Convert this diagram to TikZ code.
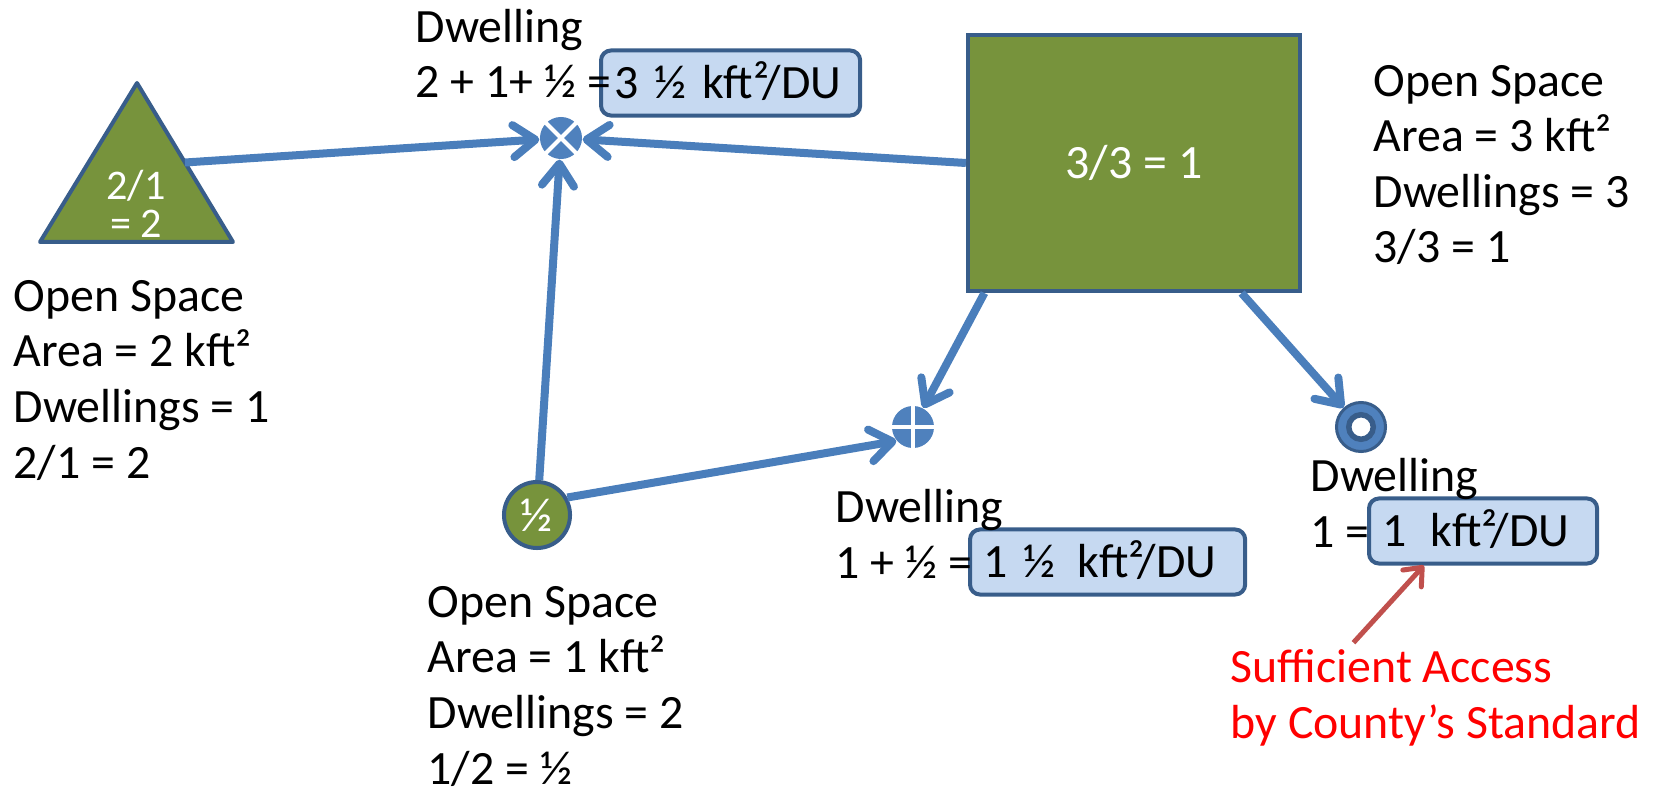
\documentclass[tikz,border=0pt]{standalone}
\usepackage{fontspec}
\setmainfont{Carlito}
\usetikzlibrary{positioning,calc,arrows.meta}
\definecolor{lnblue}{HTML}{4A7EBB}
\definecolor{dkblue}{HTML}{385D8A}
\definecolor{dwblue}{HTML}{4F81BD}
\definecolor{osgreen}{HTML}{77933C}
\definecolor{boxblue}{HTML}{C6D9F1}
\definecolor{arrred}{HTML}{C0504D}

\begin{document}
\begin{tikzpicture}[x=0.01cm,y=-0.01cm,
  every node/.style={font=\fontsize{13.6}{15.8}\selectfont},
  dwsym/.style={circle,fill=dwblue,inner sep=0pt,minimum size=0.42cm},
  ossym/.style={fill=osgreen,draw=dkblue,line width=0.04cm,text=white},
  dubox/.style={draw=dkblue,fill=boxblue,line width=0.04cm,rounded corners=0.1cm,inner xsep=0.13cm,inner ysep=0pt,
    minimum height=0.65cm,text height=0.36cm,text depth=0.06cm,anchor=west,align=left},
  lab/.style={anchor=base west,align=left,inner sep=0pt},
  link/.style={lnblue,line width=0.08cm,-{Straight Barb[round,length=0.22cm,width=0.32cm]}},
  note/.style={arrred,line width=0.05cm,-{Straight Barb[round,length=0.15cm,width=0.25cm]}}]
    \useasboundingbox (0,0) rectangle (1654,794);

    \coordinate (ta) at (137,83);
    \coordinate (tb) at (40,242);
    \coordinate (tc) at (233,242);
    \draw[ossym,line join=round] (ta) -- (tb) -- (tc) -- cycle;
    \coordinate (te) at ($(ta)!0.5!(tc)$);
    \node[text=white,align=center,inner sep=0pt,font=\fontsize{12}{11}\selectfont,anchor=base] (tri) at (136,238) {2/1\\= 2};

    \node[ossym,rectangle,minimum width=3.32cm,minimum height=2.56cm] (big) at (1134,163) {3/3 = 1};
    \node[ossym,circle,minimum size=0.66cm,inner sep=0pt] (half) at (537,515) {½};

    \node[dwsym] (xdw) at (561,138) {};
    \node[dwsym] (pdw) at (913,427) {};
    \node[dwsym,draw=dkblue,line width=0.03cm,minimum size=0.49cm] (odw) at (1361,427) {};
    \node[circle,fill=white,draw=dkblue,line width=0.055cm,minimum size=0.245cm,inner sep=0pt] (odwc) at (odw) {};
    \draw[white,line width=0.04cm] (xdw.north west) -- (xdw.south east) (xdw.north east) -- (xdw.south west);
    \draw[white,line width=0.04cm] (pdw.north) -- (pdw.south) (pdw.east) -- (pdw.west);

    \node[dubox,text width=2.33cm] (box1) at (599,83) {3 ½ kft²/DU};
    \node[dubox,text width=2.49cm] (box2) at (968,562) {1 ½\hspace{0.22cm}kft²/DU};
    \node[dubox,text width=2.02cm] (box3) at (1367,531) {1\hspace{0.24cm}kft²/DU};

    \node[lab] (dw1) at (415,98) {Dwelling\\2 + 1+ ½ =};
    \node[lab] (dw2) at (835,578) {Dwelling\\1 + ½ =};
    \node[lab] (dw3) at (1310,547) {Dwelling\\1 =};
    \node[lab] (os1) at (13,478) {Open Space\\Area = 2 kft²\\Dwellings = 1\\2/1 = 2};
    \node[lab] (os2) at (427,784) {Open Space\\Area = 1 kft²\\Dwellings = 2\\1/2 = ½};
    \node[lab] (os3) at (1373,263) {Open Space\\Area = 3 kft²\\Dwellings = 3\\3/3 = 1};
    \node[lab,text=red] (std) at (1230,738) {Sufficient Access\\by County’s Standard};

    \draw[link] (te) -- (xdw);
    \draw[link] (big.west) -- (xdw);
    \draw[link] (half) -- (xdw);
    \draw[link] (half.30) -- (pdw.220);
    \draw[link] ($(big.south west)!0.055!(big.south east)$) -- (pdw);
    \draw[link] ($(big.south west)!0.82!(big.south east)$) -- (odw);
    \draw[note] ([yshift=0.06cm]$(std.north west)!0.3!(std.north east)$) -- ($(box3.south west)!0.245!(box3.south east)$);
\end{tikzpicture}
\end{document}
